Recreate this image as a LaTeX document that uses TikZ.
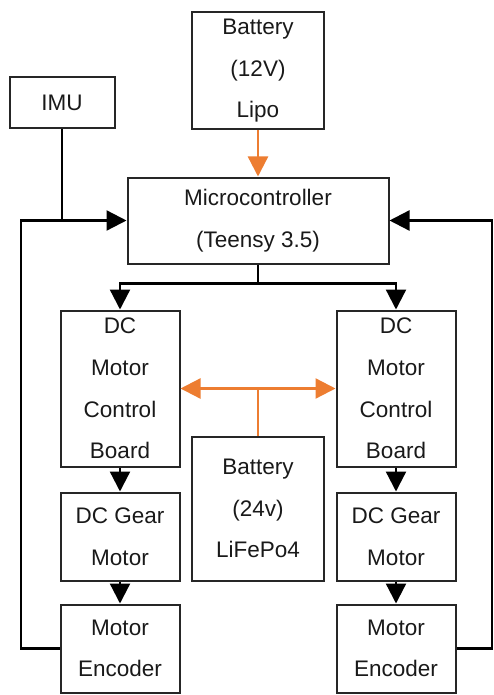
\documentclass[tikz,border=0pt]{standalone}
\usepackage{fontspec}
\setmainfont{Liberation Sans}
\usepackage{xcolor}
\usetikzlibrary{positioning,arrows.meta}
\definecolor{pworange}{HTML}{ED7D31}

\begin{document}
\begin{tikzpicture}[
		x=1pt,y=-1pt,
		node distance=24pt,
		block/.style={
			draw=black!85,
			line width=2pt,
			align=center,
			inner sep=1pt,
			text=black!90,
			font=\fontsize{22.5}{41.5}\selectfont
		},
		sig/.style={line width=2.3pt,black},
		pwr/.style={line width=2.3pt,pworange},
		tip/.style={-{Triangle[length=20pt,width=20pt]}}
		]
		\useasboundingbox (0,0) rectangle (493,695);
		
		\node[block,minimum width=261pt,minimum height=86pt] (mcu) at (258,220.5)
		{Microcontroller\\(Teensy 3.5)};
		
		\node[block,minimum width=132pt,minimum height=117pt,above=46pt of mcu] (bat12)
		{Battery\\(12V)\\Lipo};
		
		\node[block,minimum width=105pt,minimum height=51pt] (imu) at (62,103)
		{IMU};
		
		\node[block,minimum width=119pt,minimum height=156pt,below=45pt of mcu,xshift=-138pt] (ctrlL)
		{DC\\Motor\\Control\\Board};
		
		\node[block,minimum width=119pt,minimum height=156pt,below=45pt of mcu,xshift=138pt] (ctrlR)
		{DC\\Motor\\Control\\Board};
		
		\node[block,minimum width=119pt,minimum height=88pt,below=of ctrlL] (gearL)
		{DC Gear\\Motor};
		
		\node[block,minimum width=119pt,minimum height=88pt,below=of ctrlR] (gearR)
		{DC Gear\\Motor};
		
		\node[block,minimum width=119pt,minimum height=88pt,below=22pt of gearL] (encL)
		{Motor\\Encoder};
		
		\node[block,minimum width=119pt,minimum height=88pt,below=22pt of gearR] (encR)
		{Motor\\Encoder};
		
		\node[block,minimum width=132pt,minimum height=144pt,anchor=south] (bat24) at (mcu.south |- gearL.south)
		{Battery\\(24v)\\LiFePo4};
		
		% feedback rails
		\coordinate (lrail) at (21,0);
		\coordinate (rrail) at (492,0);
		\coordinate (fork) at ([yshift=-19pt]mcu.south);
		\coordinate (tee) at (bat24.north |- ctrlL.east);
		
		\draw[pwr,tip] (bat12) -- (mcu);
		
		\draw[sig,tip] (encL.west) -| (lrail |- mcu.west) -- (mcu.west);
		\draw[sig] (imu) -- (imu |- mcu.west);
		\draw[sig,tip] (encR.east) -| (rrail |- mcu.east) -- (mcu.east);
		
		\draw[sig] (mcu) -- (fork);
		\draw[sig,tip] (fork) -| (ctrlL);
		\draw[sig,tip] (fork) -| (ctrlR);
		
		\draw[sig,tip] (ctrlL) -- (gearL);
		\draw[sig,tip] (gearL) -- (encL);
		\draw[sig,tip] (ctrlR) -- (gearR);
		\draw[sig,tip] (gearR) -- (encR);
		
		\draw[pwr] (bat24) -- (tee);
		\draw[pwr,tip] (tee) -- (ctrlL);
		\draw[pwr,tip] (tee) -- (ctrlR);
		
	\end{tikzpicture}
\end{document}
